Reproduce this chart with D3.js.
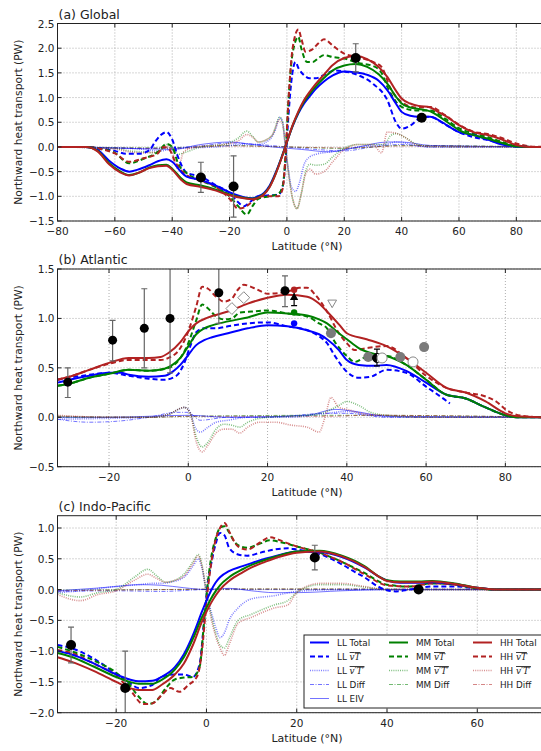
<!DOCTYPE html>
<html>
<head>
<meta charset="utf-8">
<script src="https://cdn.jsdelivr.net/npm/d3@7"></script>
<style>
  body { margin: 0; background: #fff; }
  text { font-family: "DejaVu Sans", sans-serif; fill: #222; }
</style>
</head>
<body>
<svg id="fig" width="541" height="751"></svg>
<script>
// ---- Global: [lat, PW] ----
var gTotLL = [[-80,0],[-70,0],[-66,-0.06],[-62,-0.28],[-58,-0.44],[-55,-0.5],[-52,-0.46],[-48,-0.37],[-45,-0.29],[-42,-0.25],[-40,-0.3],[-37,-0.5],[-35,-0.6],[-30,-0.67],[-25,-0.78],[-20,-0.92],[-15,-1.02],[-12,-1.04],[-10,-1.0],[-8,-0.93],[-6,-0.78],[-4,-0.53],[-2,-0.23],[0,0.1],[2,0.42],[4,0.68],[6,0.88],[8,1.03],[10,1.17],[13,1.33],[16,1.45],[20,1.53],[24,1.51],[28,1.46],[32,1.34],[35,1.15],[38,0.88],[40,0.71],[43,0.63],[46,0.61],[50,0.61],[53,0.54],[55,0.47],[58,0.36],[60,0.3],[65,0.24],[70,0.15],[75,0.05],[80,0.01],[85,0],[90,0]];
var gTotMM = [[-80,0],[-70,0],[-66,-0.08],[-62,-0.33],[-58,-0.5],[-55,-0.57],[-52,-0.53],[-48,-0.42],[-45,-0.37],[-42,-0.36],[-40,-0.44],[-37,-0.63],[-35,-0.72],[-30,-0.78],[-25,-0.86],[-20,-0.96],[-15,-1.03],[-12,-1.05],[-10,-1.02],[-8,-0.95],[-6,-0.8],[-4,-0.55],[-2,-0.24],[0,0.1],[2,0.43],[4,0.7],[6,0.92],[8,1.08],[10,1.22],[13,1.4],[16,1.55],[20,1.65],[24,1.68],[28,1.62],[32,1.47],[35,1.28],[38,1.02],[40,0.88],[43,0.8],[46,0.77],[50,0.72],[53,0.62],[55,0.54],[58,0.42],[60,0.34],[65,0.24],[70,0.17],[75,0.08],[80,0.01],[85,0],[90,0]];
var gTotHH = [[-80,0],[-70,0],[-66,-0.09],[-62,-0.35],[-58,-0.52],[-55,-0.58],[-52,-0.53],[-48,-0.43],[-45,-0.39],[-42,-0.38],[-40,-0.46],[-37,-0.66],[-35,-0.75],[-30,-0.81],[-25,-0.88],[-20,-0.98],[-15,-1.04],[-12,-1.06],[-10,-1.03],[-8,-0.96],[-6,-0.81],[-4,-0.56],[-2,-0.25],[0,0.1],[2,0.44],[4,0.72],[6,0.95],[8,1.12],[10,1.27],[13,1.47],[16,1.66],[20,1.8],[24,1.84],[28,1.78],[32,1.62],[35,1.42],[38,1.14],[40,0.98],[43,0.88],[46,0.83],[50,0.8],[53,0.7],[55,0.64],[58,0.52],[60,0.44],[65,0.3],[70,0.24],[75,0.15],[80,0.04],[85,0],[90,0]];
var gMeanLL = [[-80,0],[-70,0],[-65,-0.03],[-60,-0.08],[-56,-0.14],[-52,-0.14],[-48,-0.07],[-46,0.1],[-44,0.24],[-42,0.3],[-40,0.15],[-38,-0.2],[-35,-0.52],[-30,-0.6],[-25,-0.77],[-20,-0.93],[-17,-1.12],[-15,-1.2],[-13,-1.12],[-10,-1.0],[-6,-0.98],[-3,-0.97],[-1.5,-0.8],[-0.5,-0.3],[0.5,0.6],[1.5,1.3],[3,1.72],[4,1.6],[6,1.45],[8,1.39],[10,1.39],[13,1.46],[17,1.55],[20,1.53],[25,1.45],[30,1.28],[35,0.95],[38,0.5],[40,0.37],[43,0.43],[47,0.6],[50,0.61],[55,0.46],[60,0.3],[65,0.2],[70,0.14],[75,0.07],[80,0.01],[85,0],[90,0]];
var gMeanMM = [[-80,0],[-70,0],[-65,-0.04],[-60,-0.12],[-55,-0.33],[-50,-0.24],[-45,-0.1],[-42,0.06],[-40,0.0],[-38,-0.33],[-35,-0.53],[-30,-0.68],[-25,-0.81],[-20,-1.0],[-17,-1.2],[-14,-1.37],[-12,-1.2],[-10,-1.05],[-6,-1.0],[-3,-0.95],[-1.5,-0.8],[-0.5,-0.2],[0.5,0.9],[2,1.9],[4,2.23],[5,2.0],[7,1.72],[9,1.72],[11,1.8],[13,1.86],[16,1.82],[20,1.79],[25,1.7],[30,1.64],[33,1.5],[35,1.22],[38,0.92],[40,0.81],[45,0.74],[50,0.74],[55,0.58],[60,0.38],[65,0.27],[70,0.2],[75,0.1],[80,0.02],[85,0],[90,0]];
var gMeanHH = [[-80,0],[-70,0],[-65,-0.04],[-60,-0.13],[-55,-0.3],[-50,-0.23],[-45,-0.13],[-43,0.0],[-41,-0.05],[-39,-0.3],[-37,-0.47],[-35,-0.57],[-30,-0.68],[-25,-0.8],[-20,-1.05],[-17,-1.25],[-15,-1.23],[-12,-1.1],[-10,-1.0],[-6,-1.0],[-3,-1.0],[-1.5,-0.85],[-0.5,-0.2],[0.5,0.9],[2,2.0],[4,2.38],[5,2.2],[6.5,1.93],[9,1.98],[11,2.1],[13,2.18],[16,2.05],[20,1.89],[25,1.82],[30,1.72],[33,1.62],[36,1.2],[40,0.91],[45,0.8],[50,0.81],[55,0.65],[60,0.45],[65,0.31],[70,0.26],[75,0.18],[80,0.07],[85,0.01],[90,0]];
var gEddyLL = [[-80,0],[-60,-0.02],[-50,-0.05],[-45,-0.08],[-40,-0.05],[-35,-0.02],[-25,0.0],[-15,0.05],[-10,0.05],[-6,0.15],[-4,0.35],[-2.5,0.6],[-1.5,0.5],[-0.5,0.0],[0.5,-0.45],[1.5,-0.8],[3,-0.9],[4.5,-0.7],[6,-0.35],[8,-0.2],[10,-0.15],[15,-0.1],[20,-0.05],[25,0.0],[30,0.03],[35,0.06],[38,0.1],[42,0.07],[45,0.03],[50,0.0],[90,0]];
var gEddyMM = [[-80,0],[-60,-0.03],[-55,-0.08],[-50,-0.1],[-45,-0.12],[-42,0.05],[-40,0.0],[-38,-0.15],[-35,-0.1],[-30,0.0],[-22,0.05],[-17,0.18],[-14,0.32],[-12,0.22],[-10,0.1],[-7,0.15],[-5,0.25],[-2.5,0.6],[-1.5,0.5],[-0.5,0.0],[0.5,-0.5],[2,-1.05],[3.5,-1.25],[5,-0.95],[6.5,-0.5],[8,-0.35],[10,-0.37],[13,-0.35],[16,-0.2],[20,-0.02],[25,0.05],[30,0.05],[34,0.05],[36,0.22],[38,0.27],[41,0.2],[45,0.06],[50,0.01],[90,0]];
var gEddyHH = [[-80,0],[-60,-0.04],[-55,-0.1],[-50,-0.12],[-45,-0.1],[-42,0.02],[-40,-0.1],[-38,-0.45],[-36,-0.1],[-32,0.0],[-22,0.05],[-17,0.12],[-14,0.25],[-12,0.2],[-10,0.1],[-7,0.15],[-5,0.25],[-2.5,0.55],[-1.5,0.45],[-0.5,0.0],[0.5,-0.5],[2,-1.05],[3.5,-1.25],[5,-0.95],[6.5,-0.55],[8,-0.45],[10,-0.55],[13,-0.5],[16,-0.3],[20,-0.05],[25,0.05],[30,0.05],[33,-0.12],[35,0.3],[38,0.28],[41,0.2],[45,0.05],[50,0.01],[90,0]];
var gDiffLL = [[-80,0],[-50,-0.03],[-30,0.02],[-20,0.08],[-10,0.05],[0,0],[10,-0.05],[20,-0.08],[30,0],[40,0.05],[50,0],[90,0]];
var gDiffMM = [[-80,0],[-40,-0.02],[-20,0.03],[0,0],[20,-0.03],[40,0.03],[90,0]];
var gDiffHH = [[-80,0],[-40,-0.03],[-20,0.02],[0,0],[20,-0.02],[40,0.02],[90,0]];
var gEivLL = [[-80,0],[-60,-0.02],[-40,-0.05],[-30,0.05],[-20,0.1],[-12,0.05],[-5,0],[5,-0.05],[15,-0.1],[25,0.0],[35,0.1],[40,0.1],[50,0.03],[90,0]];
// observations: lat, value, low, high
var gObs = [[-30,-0.62,-0.92,-0.31],[-18.6,-0.8,-1.42,-0.18],[24,1.8,1.52,2.09],[47,0.59,0.55,0.63]];

// ---- Atlantic ----
var aTotLL = [[-33,0.35],[-30,0.38],[-25,0.42],[-20,0.45],[-17,0.45],[-15,0.43],[-10,0.41],[-6,0.42],[-4,0.46],[-2,0.53],[0,0.63],[2,0.73],[4,0.78],[6,0.81],[10,0.85],[15,0.9],[20,0.93],[25,0.92],[30,0.88],[33,0.84],[35,0.79],[38,0.68],[40,0.58],[43,0.53],[47,0.52],[50,0.53],[55,0.47],[60,0.35],[65,0.23],[70,0.19],[75,0.1],[80,0.02],[83,0],[90,0]];
var aTotMM = [[-33,0.32],[-30,0.34],[-25,0.4],[-20,0.44],[-15,0.48],[-10,0.47],[-6,0.49],[-4,0.53],[-2,0.6],[0,0.72],[2,0.84],[4,0.9],[6,0.93],[10,0.97],[15,1.01],[20,1.06],[25,1.05],[30,1.03],[33,0.99],[35,0.95],[38,0.85],[40,0.79],[43,0.7],[47,0.64],[50,0.62],[55,0.53],[60,0.38],[65,0.23],[70,0.19],[75,0.1],[80,0.02],[83,0],[90,0]];
var aTotHH = [[-33,0.38],[-30,0.41],[-25,0.48],[-20,0.55],[-15,0.6],[-10,0.6],[-7,0.61],[-5,0.65],[-2,0.76],[0,0.87],[2,0.95],[5,1.01],[10,1.07],[15,1.15],[20,1.21],[25,1.24],[30,1.22],[33,1.15],[35,1.07],[38,0.94],[40,0.85],[45,0.79],[50,0.72],[55,0.6],[60,0.45],[65,0.3],[70,0.25],[75,0.16],[80,0.04],[83,0.01],[90,0]];
var aMeanLL = [[-33,0.38],[-30,0.4],[-25,0.43],[-20,0.45],[-15,0.42],[-10,0.39],[-6,0.38],[-3,0.42],[-1,0.55],[0.5,0.72],[2,0.86],[4,0.9],[7,0.9],[10,0.92],[15,0.95],[20,0.96],[25,0.92],[30,0.88],[33,0.82],[35,0.75],[37,0.62],[40,0.46],[43,0.4],[46,0.41],[50,0.48],[55,0.45],[60,0.31],[65,0.17],[66,0.14]];
var aMeanMM = [[-33,0.32],[-30,0.34],[-25,0.4],[-20,0.44],[-15,0.48],[-10,0.47],[-5,0.5],[-2,0.6],[0,0.75],[2,0.98],[3.5,1.14],[5,1.1],[7,1.02],[9,0.99],[11,1.0],[13,1.06],[16,1.07],[20,1.08],[25,1.05],[30,1.02],[33,0.95],[35,0.9],[37,0.76],[40,0.62],[42,0.56],[45,0.61],[50,0.62],[55,0.53],[60,0.38],[65,0.23],[70,0.19],[75,0.1],[80,0.02],[83,0],[90,0]];
var aMeanHH = [[-33,0.38],[-30,0.41],[-25,0.48],[-20,0.54],[-15,0.58],[-10,0.58],[-7,0.58],[-5,0.6],[-2,0.7],[0,0.87],[2,1.12],[3.5,1.32],[5,1.3],[7,1.22],[9,1.17],[11,1.2],[12.5,1.29],[14,1.34],[17,1.3],[20,1.25],[25,1.27],[28,1.31],[30,1.31],[32,1.24],[35,1.07],[38,0.85],[40,0.75],[42,0.68],[45,0.7],[50,0.72],[55,0.6],[60,0.42],[65,0.3],[70,0.25],[75,0.21],[78,0.15],[80,0.08],[85,0.01],[90,0]];
var aEddyLL = [[-33,-0.02],[-20,-0.01],[-10,0.0],[-5,0.03],[-1,0.1],[0.5,0.05],[1.5,-0.08],[3,-0.15],[5,-0.1],[7,-0.05],[10,-0.03],[15,0.0],[25,0.0],[35,0.04],[40,0.06],[45,0.03],[55,0.0],[90,0]];
var aEddyMM = [[-33,0.01],[-20,0.0],[-10,0.0],[-5,0.03],[-1,0.1],[0.5,0.04],[2,-0.2],[3.5,-0.3],[5,-0.25],[7,-0.12],[9,-0.07],[11,-0.08],[13,-0.1],[15,-0.05],[20,0.0],[30,0.02],[35,0.06],[38,0.12],[40,0.16],[43,0.12],[46,0.05],[50,0.02],[60,0.0],[90,0]];
var aEddyHH = [[-33,0.02],[-20,0.0],[-10,0.0],[-5,0.03],[-1,0.1],[0.5,0.04],[2,-0.25],[3.5,-0.35],[5,-0.28],[7,-0.16],[9,-0.12],[11,-0.12],[13,-0.16],[15,-0.1],[18,-0.05],[22,-0.05],[26,-0.08],[30,-0.1],[33,-0.15],[34.5,0.0],[36,0.2],[38,0.1],[40,0.08],[45,0.03],[50,0.02],[60,0.0],[90,0]];
var aDiffLL = [[-33,-0.02],[-25,-0.05],[-18,-0.04],[-10,0.0],[-3,0.05],[0,0.05],[3,-0.03],[10,0],[20,0.0],[35,0.04],[40,0.04],[50,0.0],[90,0]];
var aDiffMM = [[-33,0.0],[-10,0.0],[0,0.01],[35,0.02],[45,0.02],[90,0]];
var aDiffHH = [[-33,0.01],[-10,0.0],[0,0.01],[35,0.01],[45,0.02],[90,0]];
var aEivLL = [[-33,0],[-20,0.0],[0,0.02],[10,0.0],[30,0.02],[37,0.08],[42,0.06],[50,0.01],[90,0]];
var aObsBars = [[-30.4,0.355,0.2,0.5],[-19.1,0.78,0.57,0.98],[-11.1,0.9,0.5,1.3],[-4.6,1.0,0.45,1.6],[7.7,1.26,0.95,1.6],[24.4,1.28,1.12,1.43]];
var aDiamonds = [[11,1.1],[14,1.21]];
var aModelDots = [[26.7,1.29,"HH"],[26.7,1.06,"MM"],[26.7,0.95,"LL"]];
var aTriUp = [[26.7,1.21,1.13,1.29]];
var aTriDown = [[36.3,1.16]];
var aGrayDots = [[36,0.85],[45.4,0.61],[53.5,0.61],[59.5,0.71]];
var aHalfDot = [[47.6,0.6,0.52,0.69]];
var aOpenDots = [[48.9,0.6],[56.7,0.56]];

// ---- Indo-Pacific ----
var pTotLL = [[-33,-1.0],[-30,-1.05],[-25,-1.2],[-20,-1.38],[-17,-1.46],[-15,-1.49],[-12,-1.48],[-10,-1.42],[-7,-1.26],[-5,-1.05],[-3,-0.74],[-1,-0.36],[0,-0.18],[1,-0.02],[2,0.11],[3,0.2],[5,0.3],[8,0.38],[10,0.43],[13,0.5],[16,0.56],[20,0.62],[25,0.61],[30,0.53],[35,0.36],[38,0.22],[40,0.15],[43,0.11],[47,0.11],[50,0.12],[55,0.09],[60,0.03],[65,0],[75,0]];
var pTotMM = [[-33,-1.03],[-30,-1.09],[-25,-1.25],[-20,-1.42],[-17,-1.5],[-15,-1.53],[-12,-1.53],[-10,-1.47],[-7,-1.3],[-5,-1.1],[-3,-0.8],[-1,-0.45],[0,-0.3],[1,-0.15],[2,-0.03],[3,0.07],[5,0.2],[8,0.33],[10,0.4],[13,0.48],[16,0.55],[20,0.62],[25,0.63],[30,0.55],[35,0.38],[38,0.22],[40,0.15],[43,0.13],[47,0.13],[50,0.14],[55,0.1],[60,0.03],[65,0],[75,0]];
var pTotHH = [[-33,-1.1],[-30,-1.17],[-25,-1.32],[-20,-1.5],[-17,-1.6],[-15,-1.63],[-12,-1.63],[-10,-1.55],[-7,-1.38],[-5,-1.2],[-3,-0.9],[-1,-0.52],[0,-0.36],[1,-0.22],[2,-0.1],[3,0.0],[5,0.14],[8,0.28],[10,0.36],[13,0.45],[16,0.53],[20,0.6],[25,0.62],[30,0.54],[35,0.37],[38,0.22],[40,0.14],[43,0.12],[47,0.12],[50,0.13],[55,0.09],[60,0.03],[65,0],[75,0]];
var pMeanLL = [[-33,-0.9],[-30,-0.95],[-25,-1.12],[-20,-1.37],[-17,-1.52],[-15,-1.6],[-12,-1.55],[-10,-1.42],[-7,-1.38],[-5,-1.38],[-3,-1.42],[-1.5,-1.2],[-0.5,-0.5],[0.3,0.1],[1,0.4],[2,0.73],[3,0.92],[4,0.88],[5,0.68],[7,0.57],[9,0.55],[12,0.6],[15,0.65],[18,0.67],[20,0.65],[25,0.58],[30,0.41],[33,0.28],[35,0.2],[38,0.05],[40,-0.01],[42,-0.03],[45,0.0],[50,0.05],[55,0.05],[60,0.02],[65,0],[75,0]];
var pMeanMM = [[-33,-0.93],[-30,-1.0],[-25,-1.15],[-20,-1.35],[-17,-1.55],[-15,-1.74],[-13,-1.86],[-11,-1.8],[-9,-1.6],[-7,-1.46],[-5,-1.43],[-3,-1.42],[-1.5,-1.25],[-0.5,-0.5],[0.3,0.1],[1,0.5],[2,0.82],[3,1.0],[4,1.03],[5,0.93],[6,0.8],[7,0.72],[9,0.68],[12,0.75],[14,0.8],[17,0.76],[20,0.7],[25,0.6],[30,0.45],[35,0.27],[40,0.08],[45,0.05],[50,0.1],[55,0.08],[60,0.02],[65,0],[75,0]];
var pMeanHH = [[-33,-0.98],[-30,-1.03],[-25,-1.2],[-20,-1.4],[-17,-1.62],[-14,-1.86],[-12,-1.85],[-10,-1.72],[-8,-1.6],[-6,-1.66],[-4,-1.55],[-2,-1.4],[-1,-1.0],[0,-0.2],[1,0.4],[2,0.8],[3,1.0],[4,1.08],[5,0.95],[6,0.8],[7,0.7],[9,0.65],[12,0.77],[14,0.85],[17,0.78],[20,0.7],[25,0.6],[30,0.45],[35,0.25],[40,0.07],[45,0.05],[50,0.1],[55,0.08],[60,0.02],[65,0],[75,0]];
var pEddyLL = [[-33,-0.05],[-28,-0.02],[-20,0.05],[-15,0.08],[-12,0.1],[-10,0.1],[-8,0.12],[-5,0.2],[-3,0.38],[-1.8,0.5],[-1,0.35],[0,-0.05],[1,-0.35],[2,-0.6],[3,-0.78],[4,-0.7],[5,-0.5],[7,-0.3],[10,-0.15],[15,-0.1],[20,-0.03],[30,0.0],[75,0]];
var pEddyMM = [[-33,-0.05],[-28,-0.12],[-24,-0.05],[-20,0.0],[-16,0.2],[-13,0.33],[-11,0.22],[-9,0.12],[-7,0.15],[-5,0.25],[-3,0.45],[-1.8,0.57],[-1,0.4],[0,-0.05],[1,-0.4],[2,-0.7],[3,-0.9],[4,-0.95],[5,-0.8],[7,-0.5],[10,-0.4],[15,-0.25],[18,-0.18],[20,-0.05],[25,0.08],[30,0.08],[35,0.04],[40,0.0],[75,0]];
var pEddyHH = [[-33,-0.08],[-28,-0.18],[-24,-0.08],[-20,-0.02],[-16,0.15],[-13,0.25],[-11,0.18],[-9,0.12],[-7,0.15],[-5,0.22],[-3,0.42],[-1.8,0.55],[-1,0.38],[0,-0.05],[1,-0.45],[2,-0.75],[3,-0.95],[4,-1.07],[5,-0.9],[7,-0.55],[10,-0.45],[15,-0.3],[18,-0.25],[20,-0.05],[25,0.1],[30,0.1],[35,0.05],[40,0.0],[75,0]];
var pDiffLL = [[-33,-0.03],[-20,-0.02],[-10,-0.03],[0,0],[10,0.0],[20,0.0],[75,0]];
var pDiffMM = [[-33,-0.01],[-10,0.0],[10,0.01],[75,0]];
var pDiffHH = [[-33,-0.02],[-10,0.0],[10,0.01],[75,0]];
var pEivLL = [[-33,-0.02],[-25,0.02],[-20,0.05],[-15,0.08],[-10,0.07],[-5,0.03],[0,0.0],[5,0.02],[10,-0.02],[15,-0.05],[20,-0.05],[30,-0.02],[40,0],[75,0]];
var pObs = [[-30,-0.9,-1.19,-0.61],[-18,-1.6,-2.3,-1.0],[24,0.52,0.32,0.72],[47,0.0,null,null]];

var colors = {LL: "#0000ff", MM: "#008000", HH: "#b22222"};

var svg = d3.select("#fig");
var X0 = 57.5, X1 = 545;

function makeSeries(tot, mean, eddy, diff, eiv) {
  // draw order: thin first, model order LL, MM, HH
  var s = [];
  ["LL","MM","HH"].forEach(function(m, i) { s.push({d: diff[i], m: m, k: "diff"}); });
  s.push({d: eiv, m: "LL", k: "eiv"});
  ["LL","MM","HH"].forEach(function(m, i) { s.push({d: eddy[i], m: m, k: "eddy"}); });
  ["LL","MM","HH"].forEach(function(m, i) { s.push({d: mean[i], m: m, k: "mean"}); });
  ["LL","MM","HH"].forEach(function(m, i) { s.push({d: tot[i], m: m, k: "tot"}); });
  return s;
}

var panels = [
  {id: "a", title: "(a) Global", top: 23.5, bot: 221, xd: [-80, 90], yd: [-1.5, 2.5],
   xt: d3.range(-80, 81, 20), yt: d3.range(-1.5, 2.51, 0.5),
   series: makeSeries([gTotLL,gTotMM,gTotHH],[gMeanLL,gMeanMM,gMeanHH],[gEddyLL,gEddyMM,gEddyHH],[gDiffLL,gDiffMM,gDiffHH],gEivLL)},
  {id: "b", title: "(b) Atlantic", top: 269, bot: 466.7, xd: [-33, 90], yd: [-0.5, 1.5],
   xt: d3.range(-20, 81, 20), yt: d3.range(-0.5, 1.51, 0.5),
   series: makeSeries([aTotLL,aTotMM,aTotHH],[aMeanLL,aMeanMM,aMeanHH],[aEddyLL,aEddyMM,aEddyHH],[aDiffLL,aDiffMM,aDiffHH],aEivLL)},
  {id: "c", title: "(c) Indo-Pacific", top: 515.7, bot: 712.7, xd: [-33, 75], yd: [-2.0, 1.2],
   xt: d3.range(-20, 61, 20), yt: d3.range(-2.0, 1.01, 0.5),
   series: makeSeries([pTotLL,pTotMM,pTotHH],[pMeanLL,pMeanMM,pMeanHH],[pEddyLL,pEddyMM,pEddyHH],[pDiffLL,pDiffMM,pDiffHH],pEivLL)}
];

function styleLine(sel, k, m) {
  sel.attr("fill", "none").attr("stroke", colors[m]);
  if (k == "tot") sel.attr("stroke-width", 2);
  if (k == "mean") sel.attr("stroke-width", 2).attr("stroke-dasharray", "5,3");
  if (k == "eddy") sel.attr("stroke-width", 1.6).attr("stroke-dasharray", "1,1.2").attr("opacity", 0.5);
  if (k == "diff") sel.attr("stroke-width", 1).attr("stroke-dasharray", "4,1.5,1,1.5").attr("opacity", 0.55);
  if (k == "eiv") sel.attr("stroke-width", 1).attr("opacity", 0.55);
}

var fmt = function(v) { return d3.format(".1f")(v).replace("-", "\u2212"); };
var fmtX = function(v) { return String(v).replace("-", "\u2212"); };

panels.forEach(function(p) {
  var x = d3.scaleLinear().domain(p.xd).range([X0, X1]);
  var y = d3.scaleLinear().domain(p.yd).range([p.bot, p.top]);
  var g = svg.append("g");

  g.append("clipPath").attr("id", "clip" + p.id).append("rect")
    .attr("x", X0).attr("y", p.top).attr("width", X1 - X0).attr("height", p.bot - p.top);

  // grid
  g.selectAll(".gx").data(p.xt).enter().append("line")
    .attr("x1", d => x(d)).attr("x2", d => x(d)).attr("y1", p.top).attr("y2", p.bot)
    .attr("stroke", "#999").attr("stroke-width", 0.8).attr("stroke-dasharray", "1,2");
  g.selectAll(".gy").data(p.yt).enter().append("line")
    .attr("x1", X0).attr("x2", X1).attr("y1", d => y(d)).attr("y2", d => y(d))
    .attr("stroke", "#999").attr("stroke-width", 0.8).attr("stroke-dasharray", "1,2");

  var line = d3.line().x(d => x(d[0])).y(d => y(d[1])).curve(d3.curveMonotoneX);
  var plot = g.append("g").attr("clip-path", "url(#clip" + p.id + ")");
  p.series.forEach(function(s) {
    plot.append("path").attr("d", line(s.d)).call(styleLine, s.k, s.m);
  });

  // observations
  var obs = plot.append("g");
  function errBar(lat, lo, hi, col) {
    if (lo == null) return;
    obs.append("line").attr("x1", x(lat)).attr("x2", x(lat)).attr("y1", y(lo)).attr("y2", y(hi))
      .attr("stroke", col).attr("stroke-width", 1.2);
    [lo, hi].forEach(function(v) {
      obs.append("line").attr("x1", x(lat) - 3).attr("x2", x(lat) + 3).attr("y1", y(v)).attr("y2", y(v))
        .attr("stroke", col).attr("stroke-width", 1.2);
    });
  }
  function dots(list, r) {
    list.forEach(function(o) {
      errBar(o[0], o[2], o[3], "#666");
      obs.append("circle").attr("cx", x(o[0])).attr("cy", y(o[1])).attr("r", r).attr("fill", "#000");
    });
  }
  if (p.id == "a") dots(gObs, 5);
  if (p.id == "c") dots(pObs, 5);
  if (p.id == "b") {
    dots(aObsBars, 4.5);
    aDiamonds.forEach(function(o) {
      obs.append("path").attr("d", d3.symbol(d3.symbolDiamond2, 90)())
        .attr("transform", "translate(" + x(o[0]) + "," + y(o[1]) + ")")
        .attr("fill", "#fff").attr("stroke", "#888");
    });
    aTriUp.forEach(function(o) {
      errBar(o[0], o[2], o[3], "#000");
      obs.append("path").attr("d", d3.symbol(d3.symbolTriangle, 30)())
        .attr("transform", "translate(" + x(o[0]) + "," + y(o[1]) + ")").attr("fill", "#000");
    });
    aModelDots.forEach(function(o) {
      obs.append("circle").attr("cx", x(o[0])).attr("cy", y(o[1])).attr("r", 3.2).attr("fill", colors[o[2]]);
    });
    aTriDown.forEach(function(o) {
      obs.append("path").attr("d", d3.symbol(d3.symbolTriangle2, 55)())
        .attr("transform", "translate(" + x(o[0]) + "," + y(o[1]) + ") rotate(180)")
        .attr("fill", "#fff").attr("stroke", "#888");
    });
    aGrayDots.forEach(function(o) {
      obs.append("circle").attr("cx", x(o[0])).attr("cy", y(o[1])).attr("r", 5).attr("fill", "#7a7a7a");
    });
    aHalfDot.forEach(function(o) {
      errBar(o[0], o[2], o[3], "#000");
      var cx = x(o[0]), cy = y(o[1]);
      obs.append("circle").attr("cx", cx).attr("cy", cy).attr("r", 4.5).attr("fill", "#fff").attr("stroke", "#000");
      obs.append("path").attr("d", d3.arc()({innerRadius: 0, outerRadius: 4.5, startAngle: Math.PI, endAngle: 2 * Math.PI}))
        .attr("transform", "translate(" + cx + "," + cy + ")").attr("fill", "#000");
    });
    aOpenDots.forEach(function(o) {
      obs.append("circle").attr("cx", x(o[0])).attr("cy", y(o[1])).attr("r", 5).attr("fill", "#fff").attr("stroke", "#888");
    });
  }

  // frame and ticks (inward, all sides)
  g.append("rect").attr("x", X0).attr("y", p.top).attr("width", X1 - X0).attr("height", p.bot - p.top)
    .attr("fill", "none").attr("stroke", "#222").attr("stroke-width", 1);
  p.xt.forEach(function(t) {
    g.append("line").attr("x1", x(t)).attr("x2", x(t)).attr("y1", p.bot).attr("y2", p.bot - 4).attr("stroke", "#222");
    g.append("line").attr("x1", x(t)).attr("x2", x(t)).attr("y1", p.top).attr("y2", p.top + 4).attr("stroke", "#222");
    g.append("text").attr("x", x(t)).attr("y", p.bot + 14).attr("text-anchor", "middle")
      .attr("font-size", 10.5).text(fmtX(t));
  });
  p.yt.forEach(function(t) {
    g.append("line").attr("x1", X0).attr("x2", X0 + 4).attr("y1", y(t)).attr("y2", y(t)).attr("stroke", "#222");
    g.append("text").attr("x", X0 - 3).attr("y", y(t) + 4).attr("text-anchor", "end")
      .attr("font-size", 10.5).text(fmt(t));
  });

  g.append("text").attr("x", X0 + 1).attr("y", p.top - 5).attr("font-size", 12.5).text(p.title);
  g.append("text").attr("x", 307).attr("y", p.bot + 29).attr("text-anchor", "middle")
    .attr("font-size", 11).text("Latitude (\u00b0N)");
  g.append("text").attr("transform", "translate(22," + ((p.top + p.bot) / 2) + ") rotate(-90)")
    .attr("text-anchor", "middle").attr("font-size", 10.7).text("Northward heat transport (PW)");
});

// legend in panel (c)
var legModels = ["LL", "MM", "HH"];
var legKinds = ["tot", "mean", "eddy", "diff"];
var leg = svg.append("g");
leg.append("rect").attr("x", 304).attr("y", 635).attr("width", 250).attr("height", 73)
  .attr("fill", "#fff").attr("stroke", "#222");
var colX = [310, 389, 473];
var rowY = [642.5, 656.5, 670.5, 684.5, 698.5];
function legLabel(t, m, k) {
  t.append("tspan").text(m + " ");
  if (k == "tot") t.append("tspan").text("Total");
  if (k == "diff") t.append("tspan").text("Diff");
  if (k == "eiv") t.append("tspan").text("EIV");
  if (k == "mean") {
    t.append("tspan").attr("font-family", "DejaVu Serif").attr("font-style", "italic")
      .style("text-decoration", "overline").text("v");
    t.append("tspan").attr("font-family", "DejaVu Serif").attr("font-style", "italic")
      .style("text-decoration", "overline").text("T");
  }
  if (k == "eddy") {
    t.append("tspan").attr("font-family", "DejaVu Serif").attr("font-style", "italic")
      .style("text-decoration", "overline").text("v\u2032T\u2032");
  }
}
legModels.forEach(function(m, i) {
  var ks = m == "LL" ? legKinds.concat(["eiv"]) : legKinds;
  ks.forEach(function(k, j) {
    leg.append("line").attr("x1", colX[i]).attr("x2", colX[i] + 19)
      .attr("y1", rowY[j]).attr("y2", rowY[j]).call(styleLine, k, m);
    var t = leg.append("text").attr("x", colX[i] + 27).attr("y", rowY[j] + 3.5).attr("font-size", 8.8);
    legLabel(t, m, k);
  });
});
</script>
</body>
</html>
